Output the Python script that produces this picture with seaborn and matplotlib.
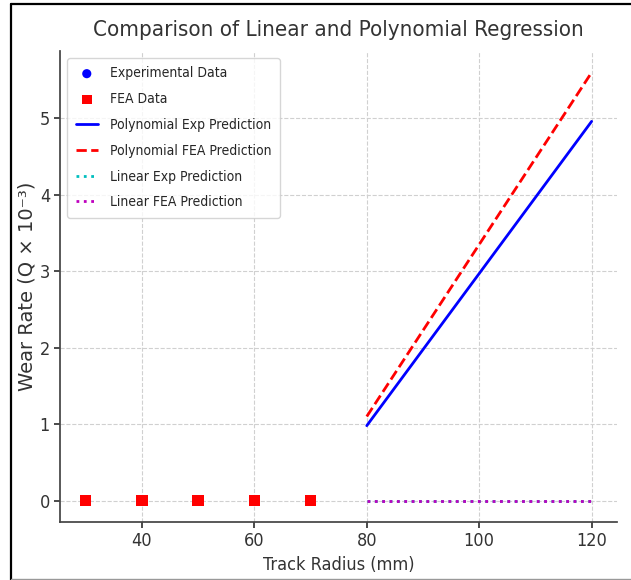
import matplotlib
matplotlib.use("Agg")
import matplotlib.pyplot as plt
import seaborn as sns
import pandas as pd
from matplotlib.lines import Line2D

# Data
radius_data = [30, 40, 50, 60, 70]
exp_wear = [0.0, 0.0, 0.0, 0.0, 0.0]
fea_wear = [0.0, 0.0, 0.0, 0.0, 0.0]
radius_pred = [80, 120]
poly_exp_pred = [0.98, 4.96]
poly_fea_pred = [1.10, 5.60]
lin_exp_pred = [0.0, 0.0]
lin_fea_pred = [0.0, 0.0]

sns.set_theme(style="ticks")
plt.rcParams['font.family'] = ['DejaVu Sans']
plt.rcParams['font.stretch'] = 'condensed'

fig = plt.figure(figsize=(6.31, 5.8), dpi=100)
ax = fig.add_axes([0.0957, 0.10, 0.882, 0.812])

df_data = pd.DataFrame({"r": radius_data, "exp": exp_wear, "fea": fea_wear})
df_pred = pd.DataFrame({"r": radius_pred, "pe": poly_exp_pred, "pf": poly_fea_pred,
                        "le": lin_exp_pred, "lf": lin_fea_pred})

sns.scatterplot(data=df_data, x="r", y="exp", color="blue", marker="o", s=60,
                edgecolor="none", ax=ax, label="Experimental Data", zorder=3)
sns.scatterplot(data=df_data, x="r", y="fea", color="red", marker="s", s=70,
                edgecolor="none", ax=ax, label="FEA Data", zorder=4)
sns.lineplot(data=df_pred, x="r", y="pe", color="blue", lw=2, ax=ax,
             label="Polynomial Exp Prediction")
sns.lineplot(data=df_pred, x="r", y="pf", color="red", lw=2, ls="--", ax=ax,
             label="Polynomial FEA Prediction")
sns.lineplot(data=df_pred, x="r", y="le", color="#00bfbf", lw=2, ls=":", ax=ax,
             label="Linear Exp Prediction")
sns.lineplot(data=df_pred, x="r", y="lf", color="#bf00bf", lw=2, ls=":", ax=ax,
             label="Linear FEA Prediction")

ax.set_xlim(25.5, 124.5)
ax.set_ylim(-0.28, 5.88)
ax.set_xticks([40, 60, 80, 100, 120])
ax.set_yticks([0, 1, 2, 3, 4, 5])
ax.grid(True, ls="--", color="#d0d0d0", lw=0.8)
sns.despine(ax=ax)
for s in ["left", "bottom"]:
    ax.spines[s].set_color("#444444")
ax.tick_params(labelsize=13, colors="#333333", length=4)

ax.set_title("Comparison of Linear and Polynomial Regression", fontsize=16, color="#333333", pad=11)
ax.set_xlabel("Track Radius (mm)", fontsize=13, color="#333333")
ax.set_ylabel("Wear Rate (Q × 10⁻³)", fontsize=14, color="#333333",
              fontstretch='normal', labelpad=2)

ax.legend(loc="upper left", fontsize=10, frameon=True, borderpad=0.6,
          labelspacing=0.85, handlelength=1.6, handletextpad=0.9, markerscale=0.85)

# screenshot frame
fig.add_artist(Line2D([11/631, 11/631], [0, 1 - 4/580], color="black", lw=1.6, transform=fig.transFigure))
fig.add_artist(Line2D([11/631, 1], [1 - 4/580, 1 - 4/580], color="black", lw=1.6, transform=fig.transFigure))
fig.add_artist(Line2D([11/631, 1], [1/580, 1/580], color="#999999", lw=1, transform=fig.transFigure))

fig.savefig("out.png", dpi=100)
